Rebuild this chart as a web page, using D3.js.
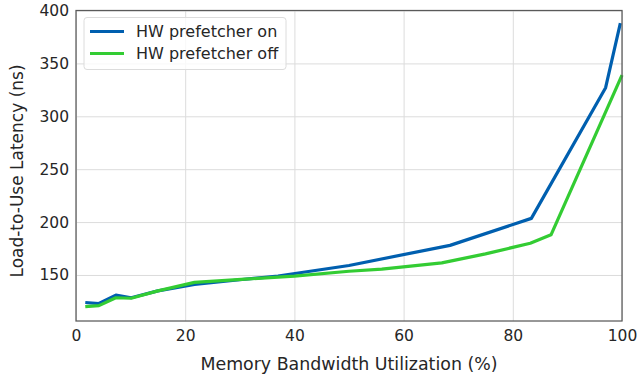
<!DOCTYPE html>
<html>
  <head>
    <meta charset="UTF-8" />
    <script src="https://cdnjs.cloudflare.com/ajax/libs/d3/7.8.5/d3.min.js"></script>
    <style>
      body { margin: 0; background: #fff; }
      text { font-family: "DejaVu Sans", sans-serif; fill: #262626; }
      .grid line { stroke: #dcdcdc; stroke-width: 1; }
      .grid path.domain { stroke: none; }
      .axis path.domain { stroke: none; }
      .axis line { stroke: none; }
    </style>
  </head>
  <body>
    <svg id="chart" width="637" height="376"></svg>
    <script>
      // values
      const onX = [1.7, 4.2, 7.3, 10.1, 15, 21.7, 30, 37, 50, 68.5, 83.4, 97, 99.7];
      const onY = [124, 123, 131, 128.5, 135, 141, 145.5, 149, 159, 178, 203.5, 327, 388];
      const offX = [1.7, 4.2, 7.3, 10.1, 15, 21.7, 31, 40, 50, 56, 67, 75, 83.2, 87, 100];
      const offY = [120, 121, 128.5, 128, 135, 143, 146, 149, 153.5, 155.5, 161.5, 170, 180, 188, 339];
      const xTicks = [0, 20, 40, 60, 80, 100];
      const yTicks = [150, 200, 250, 300, 350, 400];
      const seriesNames = ["HW prefetcher on", "HW prefetcher off"];
      const colors = ["#005faf", "#33cc33"];

      const margin = { top: 10.5, right: 15, bottom: 55, left: 76 },
        width = 637 - margin.left - margin.right,
        height = 376 - margin.top - margin.bottom;

      const svg = d3.select("#chart");
      const g = svg.append("g")
        .attr("transform", `translate(${margin.left},${margin.top})`);

      const x = d3.scaleLinear().domain([0, 100]).range([0, width]);
      const y = d3.scaleLinear().domain([106.5, 400]).range([height, 0]);

      // grid
      g.append("g")
        .attr("class", "grid")
        .attr("transform", `translate(0,${height})`)
        .call(d3.axisBottom(x).tickValues(xTicks).tickSize(-height).tickFormat(""));
      g.append("g")
        .attr("class", "grid")
        .call(d3.axisLeft(y).tickValues(yTicks).tickSize(-width).tickFormat(""));

      // axes (labels only)
      g.append("g")
        .attr("class", "axis")
        .attr("transform", `translate(0,${height})`)
        .call(d3.axisBottom(x).tickValues(xTicks).tickSize(0).tickPadding(9))
        .selectAll("text")
        .style("font-size", "15.5px");
      g.append("g")
        .attr("class", "axis")
        .call(d3.axisLeft(y).tickValues(yTicks).tickSize(0).tickPadding(7))
        .selectAll("text")
        .style("font-size", "15.5px");

      const line = d3.line().x(d => x(d[0])).y(d => y(d[1]));
      const series = [d3.zip(onX, onY), d3.zip(offX, offY)];

      g.selectAll("path.series")
        .data(series)
        .enter()
        .append("path")
        .attr("class", "series")
        .attr("d", line)
        .attr("fill", "none")
        .attr("stroke", (d, i) => colors[i])
        .attr("stroke-width", 3.2)
        .attr("stroke-linejoin", "round");

      // frame
      g.append("rect")
        .attr("width", width)
        .attr("height", height)
        .attr("fill", "none")
        .attr("stroke", "#5a5a5a")
        .attr("stroke-width", 1.25);

      // axis titles
      svg.append("text")
        .attr("x", margin.left + width / 2)
        .attr("y", 370)
        .attr("text-anchor", "middle")
        .style("font-size", "17.4px")
        .text("Memory Bandwidth Utilization (%)");
      svg.append("text")
        .attr("transform", `translate(23,171) rotate(-90)`)
        .attr("text-anchor", "middle")
        .style("font-size", "17px")
        .text("Load-to-Use Latency (ns)");

      // legend
      const lg = g.append("g").attr("transform", "translate(8,7)");
      lg.append("rect")
        .attr("width", 202)
        .attr("height", 52)
        .attr("rx", 3)
        .attr("fill", "#fff")
        .attr("fill-opacity", 0.8)
        .attr("stroke", "#dcdcdc");
      seriesNames.forEach((name, i) => {
        const row = lg.append("g").attr("transform", `translate(0,${14 + i * 22})`);
        row.append("line")
          .attr("x1", 6).attr("x2", 40)
          .attr("stroke", colors[i])
          .attr("stroke-width", 3.2);
        row.append("text")
          .attr("x", 52)
          .attr("dy", "0.35em")
          .style("font-size", "16px")
          .text(name);
      });
    </script>
  </body>
</html>
